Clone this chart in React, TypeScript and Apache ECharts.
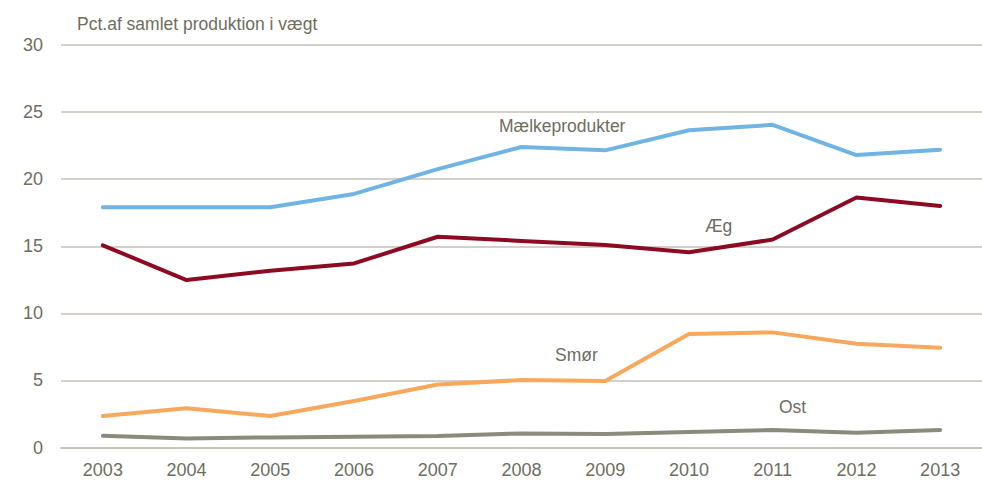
import React, { useEffect, useRef } from "react";
import * as echarts from "echarts";

const years = ["2003", "2004", "2005", "2006", "2007", "2008", "2009", "2010", "2011", "2012", "2013"];
const maelkeprodukter = [17.9, 17.9, 17.9, 18.9, 20.75, 22.4, 22.15, 23.65, 24.05, 21.8, 22.2];
const aeg = [15.07, 12.48, 13.18, 13.72, 15.71, 15.4, 15.1, 14.55, 15.5, 18.64, 18.0];
const smoer = [2.35, 2.92, 2.35, 3.47, 4.7, 5.03, 4.95, 8.46, 8.58, 7.74, 7.44];
const ost = [0.88, 0.68, 0.75, 0.8, 0.85, 1.05, 1.0, 1.15, 1.3, 1.1, 1.3];
const yTicks = [0, 5, 10, 15, 20, 25, 30];

const FONT = "'Liberation Sans', Arial, sans-serif";
const TXT = "#6e6e60";

export default function App() {
  const ref = useRef<HTMLDivElement>(null);
  useEffect(() => {
    if (!ref.current) return;
    const chart = echarts.init(ref.current, null, { renderer: "svg" });
    const mk = (name: string, data: number[], color: string) => ({
      name,
      type: "line",
      data,
      symbol: "none",
      lineStyle: { color, width: 4, cap: "round", join: "round" },
      itemStyle: { color },
    });
    chart.setOption({
      animation: false,
      textStyle: { fontFamily: FONT },
      grid: { left: 61, top: 45, width: 931, height: 402.5, containLabel: false },
      xAxis: {
        type: "category",
        data: years,
        boundaryGap: true,
        axisLine: { show: true, lineStyle: { color: "#c3c1b6", width: 1.5 } },
        axisTick: { show: false },
        axisLabel: { color: TXT, fontSize: 18, margin: 13, fontFamily: FONT },
        splitLine: { show: false },
      },
      yAxis: {
        type: "value",
        min: yTicks[0],
        max: yTicks[yTicks.length - 1],
        interval: 5,
        axisLine: { show: false },
        axisTick: { show: false },
        axisLabel: { color: TXT, fontSize: 18, margin: 18, fontFamily: FONT },
        splitLine: { show: true, lineStyle: { color: "#c3c1b6", width: 1.5 } },
      },
      graphic: [
        { type: "text", left: 77, top: 15, style: { text: "Pct.af samlet produktion i vægt", fill: TXT, font: `17.5px ${FONT}` } },
        { type: "text", left: 499, top: 117, style: { text: "Mælkeprodukter", fill: TXT, font: `17.5px ${FONT}` } },
        { type: "text", left: 705, top: 217, style: { text: "Æg", fill: TXT, font: `17.5px ${FONT}` } },
        { type: "text", left: 555, top: 346, style: { text: "Smør", fill: TXT, font: `17.5px ${FONT}` } },
        { type: "text", left: 779, top: 398, style: { text: "Ost", fill: TXT, font: `17.5px ${FONT}` } },
      ],
      series: [
        mk("Ost", ost, "#8c8a7c"),
        mk("Smør", smoer, "#f7a85c"),
        mk("Æg", aeg, "#8c0a22"),
        mk("Mælkeprodukter", maelkeprodukter, "#70b4e4"),
      ],
    });
    return () => chart.dispose();
  }, []);
  return <div ref={ref} style={{ position: "absolute", left: 0, top: 0, width: 982, height: 482, background: "#fff" }} />;
}
